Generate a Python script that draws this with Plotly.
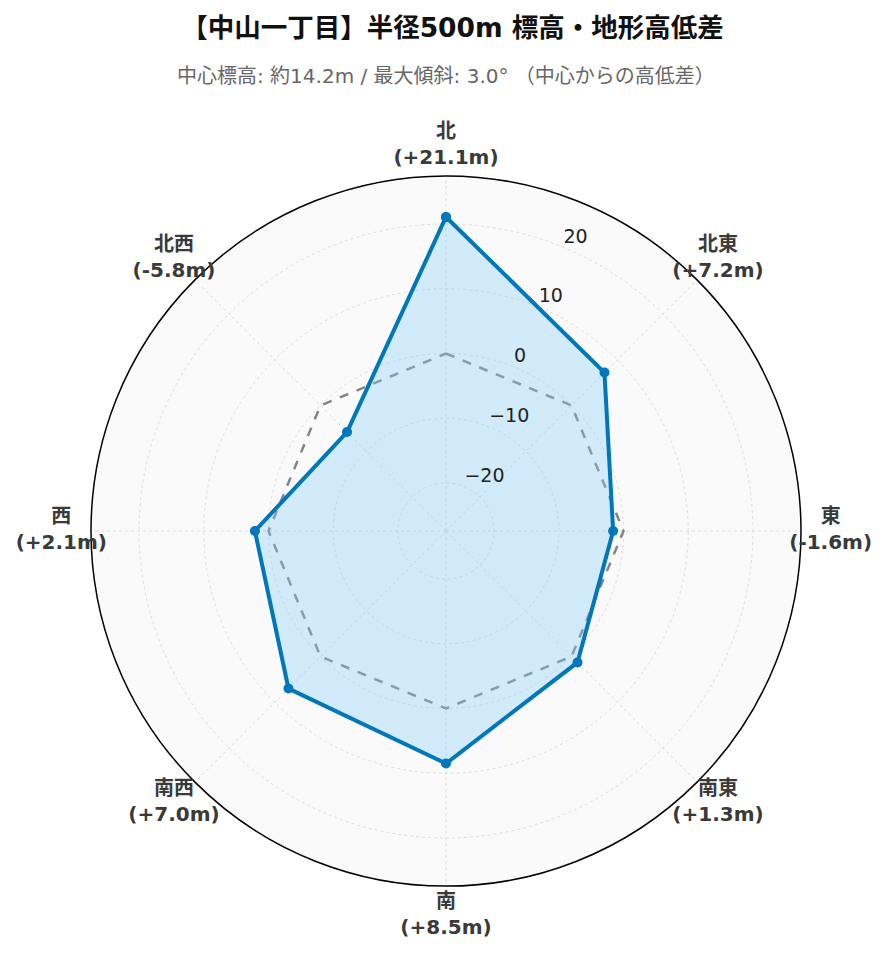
import plotly.graph_objects as go

directions = ["北", "北東", "東", "南東", "南", "南西", "西", "北西"]
diffs = [21.1, 7.2, -1.6, 1.3, 8.5, 7.0, 2.1, -5.8]
baseline = [0, 0, 0, 0, 0, 0, 0, 0]
radial_ticks = [-20, -10, 0, 10, 20]

center_elev = 14.2
max_slope = 3.0

FONT = "DejaVu Sans, Noto Sans CJK JP"
labels = [f"<b>{d}<br>({v:+.1f}m)</b>" for d, v in zip(directions, diffs)]
tick_text = [f"{t:d}".replace("-", "\u2212") for t in radial_ticks]
lim = max(abs(v) for v in diffs) * 1.3

# outer label ring: radius 385px vs plot circle 355px
ring = 385 / 355
outer_end = -lim + 2 * lim * ring
step = 360 / len(directions)
label_theta = [i * step for i in range(len(directions))]
tick_theta = [step / 2] * len(radial_ticks)

fig = go.Figure()
# zero reference (center elevation)
fig.add_trace(go.Scatterpolar(
    r=baseline + [baseline[0]], theta=directions + [directions[0]],
    mode="lines", line=dict(color="#858585", width=2.5, dash="dash"),
    hoverinfo="skip", showlegend=False))
fig.add_trace(go.Scatterpolar(
    r=diffs + [diffs[0]], theta=directions + [directions[0]],
    mode="lines+markers", fill="toself",
    fillcolor="rgba(135,206,250,0.35)",
    line=dict(color="#0077bb", width=4),
    marker=dict(size=10, color="#0077bb"),
    showlegend=False))

# direction labels + radial tick labels on an invisible, larger polar
fig.add_trace(go.Scatterpolar(
    r=[outer_end - 0.05] * len(directions), theta=label_theta,
    mode="text", text=labels, textposition="middle center",
    textfont=dict(family=FONT, size=20, color="#3a3a3a"),
    subplot="polar2", hoverinfo="skip", showlegend=False))
fig.add_trace(go.Scatterpolar(
    r=radial_ticks, theta=tick_theta,
    mode="text", text=tick_text, textposition="top right",
    textfont=dict(family="DejaVu Sans", size=19, color="#222222"),
    subplot="polar2", hoverinfo="skip", showlegend=False))

fig.add_annotation(
    text=f"中心標高: 約{center_elev}m / 最大傾斜: {max_slope}° （中心からの高低差）",
    xref="paper", yref="paper", x=0.5, xanchor="center",
    y=1, yshift=60, yanchor="middle", showarrow=False,
    font=dict(family=FONT, size=20, color="#666666"))

fig.update_layout(
    width=889, height=962,
    font=dict(family=FONT, size=14, color="#333333"),
    title=dict(
        text="<b>【中山一丁目】半径500m 標高・地形高低差</b>",
        x=0.5, xanchor="center", y=0.98, yanchor="middle",
        font=dict(family=FONT, size=26.5, color="#111111")),
    margin=dict(l=53, r=66, t=128, b=44),
    paper_bgcolor="white",
    polar=dict(
        domain=dict(x=[30 / 770, 740 / 770], y=[40 / 790, 750 / 790]),
        bgcolor="#fafafa",
        radialaxis=dict(
            range=[-lim, lim], angle=67.5, dtick=10,
            showline=False, showticklabels=False,
            gridcolor="#dddddd", griddash="dot", ticks=""),
        angularaxis=dict(
            rotation=90, direction="clockwise",
            gridcolor="#dddddd", griddash="dot",
            linecolor="black", linewidth=1.5,
            showticklabels=False, ticks=""),
    ),
    polar2=dict(
        domain=dict(x=[0, 1], y=[0, 1]),
        bgcolor="rgba(0,0,0,0)",
        radialaxis=dict(range=[-lim, outer_end], visible=False),
        angularaxis=dict(rotation=90, direction="clockwise", visible=False),
    ),
)

fig.write_html("out.html")
